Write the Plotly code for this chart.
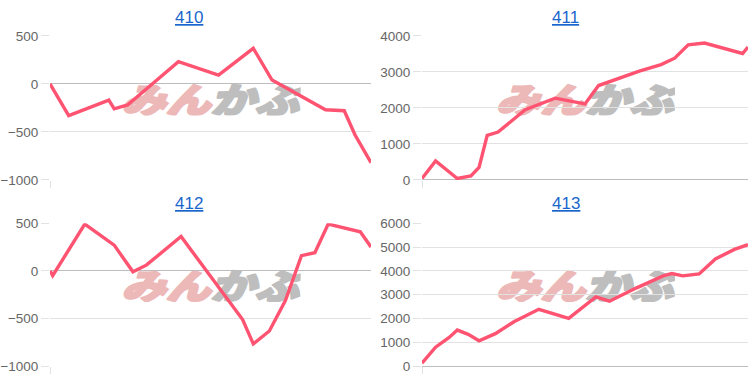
import plotly.graph_objects as go
import base64

# ---- data ----
titles = ["410", "411", "412", "413"]

x410 = [0, 7, 22, 24, 29, 48, 63, 76, 83, 103, 110, 114, 120]
y410 = [0, -330, -170, -260, -220, 230, 90, 370, 40, -270, -280, -530, -820]

x411 = [0, 5, 13, 18, 21, 24, 28, 38, 49, 60, 65, 80, 88, 93, 98, 104, 118, 120]
y411 = [40, 530, 40, 110, 350, 1240, 1330, 1950, 2270, 2110, 2620, 3020, 3200, 3380, 3750, 3800, 3510, 3690]

x412 = [0, 1, 13, 24, 31, 36, 49, 72, 76, 82, 88, 94, 99, 104, 116, 120]
y412 = [0, -50, 490, 270, -10, 60, 360, -510, -765, -630, -310, 160, 190, 490, 410, 250]

x413 = [0, 2, 5, 10, 13, 17, 21, 27, 34, 43, 54, 64, 69, 79, 89, 92, 96, 102, 108, 115, 120]
y413 = [130, 380, 800, 1210, 1520, 1340, 1070, 1370, 1880, 2390, 2010, 2910, 2730, 3290, 3800, 3890, 3790, 3870, 4500, 4900, 5100]

series_x = [x410, x411, x412, x413]
series_y = [y410, y411, y412, y413]
y_ranges = [[-1000, 500], [0, 4000], [-1000, 500], [0, 6000]]
y_dticks = [500, 1000, 500, 1000]

# ---- layout geometry ----
W, H = 754, 382
x_domains = [[50 / W, 371 / W], [422 / W, 748 / W]]
y_domains = [[1 - 180 / H, 1 - 30 / H], [1 - 374 / H, 1 - 225 / H]]

LINE = "#ff5372"
GRID = "#e2e2e2"
ZERO = "#bdbdbd"
TICKFONT = dict(family="Liberation Sans, Arial, sans-serif", size=13.5, color="#666666")

fig = go.Figure()
layout = dict(
    width=W, height=H,
    margin=dict(l=0, r=0, t=0, b=0),
    paper_bgcolor="white", plot_bgcolor="white",
    showlegend=False,
)

# watermark svg
svg = (
    '<svg xmlns="http://www.w3.org/2000/svg" width="180" height="34">'
    '<text x="1" y="31" textLength="178" lengthAdjust="spacingAndGlyphs" '
    'font-family="Noto Sans CJK JP" font-weight="900" font-style="italic" font-size="36" '
    'stroke-width="2.2" stroke-linejoin="round">'
    '<tspan fill="rgb(236,184,184)" stroke="rgb(236,184,184)">みん</tspan>'
    '<tspan fill="rgb(190,190,190)" stroke="rgb(190,190,190)">かぶ</tspan></text></svg>'
)
wm_src = "data:image/svg+xml;base64," + base64.b64encode(svg.encode("utf-8")).decode()

annotations = []
images = []
for i in range(4):
    row, col = divmod(i, 2)
    n = "" if i == 0 else str(i + 1)
    xa, ya = "xaxis" + n, "yaxis" + n
    fig.add_trace(go.Scatter(
        x=series_x[i], y=series_y[i], mode="lines",
        line=dict(color=LINE, width=3.4),
        xaxis="x" + n, yaxis="y" + n, hoverinfo="skip",
    ))
    layout[xa] = dict(
        domain=x_domains[col], anchor="y" + n,
        range=[min(series_x[i]), max(series_x[i])],
        tickvals=[min(series_x[i])], showticklabels=False,
        showgrid=True, gridcolor=GRID, gridwidth=1,
        ticks="outside", ticklen=7, tickcolor=GRID,
        zeroline=False, showline=False, fixedrange=True,
    )
    layout[ya] = dict(
        domain=y_domains[row], anchor="x" + n,
        range=y_ranges[i], dtick=y_dticks[i], tick0=0,
        showgrid=True, gridcolor=GRID, gridwidth=1,
        zeroline=True, zerolinecolor=ZERO, zerolinewidth=1,
        ticks="outside", ticklen=8, tickcolor=GRID,
        tickfont=TICKFONT, showline=False, fixedrange=True,
    )
    title_y = [1 - 11 / H, 1 - 205 / H][row]
    annotations.append(dict(
        text='<span style="text-decoration:underline">' + titles[i] + '</span>',
        xref="paper", yref="paper", x=[0.25, 0.75][col], y=title_y,
        xanchor="center", yanchor="middle", showarrow=False,
        font=dict(family="Liberation Sans, Arial, sans-serif", size=17, color="#1a66cc"),
    ))
    cx = (x_domains[col][0] + x_domains[col][1]) / 2
    cy = [1 - 96 / H, 1 - 290 / H][row]
    images.append(dict(
        source=wm_src, xref="paper", yref="paper", x=cx, y=cy,
        sizex=180 / W, sizey=34 / H, xanchor="center", yanchor="middle",
        sizing="stretch", layer="below",
    ))

layout["annotations"] = annotations
layout["images"] = images
fig.update_layout(**layout)
fig.write_html("out.html")
